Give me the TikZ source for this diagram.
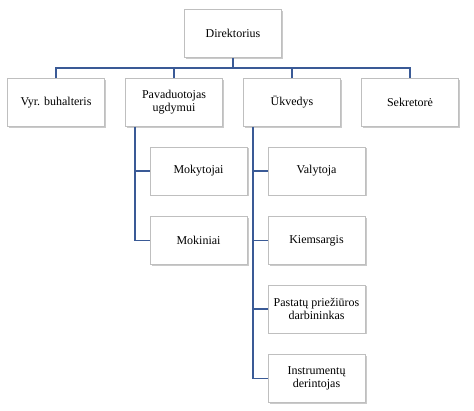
\documentclass[tikz,border=0pt]{standalone}
\usepackage{fontspec}
\setmainfont{Liberation Serif}
\usetikzlibrary{shadows}
\definecolor{conn}{HTML}{3A5A96}
\definecolor{bord}{HTML}{BFBFBF}
\begin{document}
\begin{tikzpicture}[x=1pt,y=-1pt,
  box/.style={draw=bord,line width=0.8pt,fill=white,minimum width=97pt,minimum height=48pt,
    align=center,inner sep=1pt,font=\fontsize{12}{13}\selectfont,
    drop shadow={shadow xshift=1.5pt,shadow yshift=-1.5pt,fill=black!35,opacity=0.6}},
  link/.style={draw=conn,line width=1.8pt}]
\useasboundingbox (0,0) rectangle (474,411);
\node[box] (dir) at (233,33.5) {Direktorius};
\node[box] (vyr) at (56,102.5) {Vyr. buhalteris};
\node[box] (pav) at (174,102.5) {Pavaduotojas\\ugdymui};
\node[box] (ukv) at (292,102.5) {Ūkvedys};
\node[box] (sek) at (410,102.5) {Sekretorė};
\node[box] (mok) at (198.5,171) {Mokytojai};
\node[box] (moki) at (198.5,240.5) {Mokiniai};
\node[box] (val) at (316.5,171) {Valytoja};
\node[box] (kie) at (316.5,240.5) {Kiemsargis};
\node[box] (pas) at (316.5,309) {Pastatų priežiūros\\darbininkas};
\node[box] (ins) at (316.5,378.5) {Instrumentų\\derintojas};
\coordinate (bar) at (0,68);
\draw[link] (dir.south) -- (dir.south |- bar);
\draw[link] (vyr.north) -- (vyr.north |- bar) -- (sek.north |- bar) -- (sek.north);
\draw[link] (pav.north) -- (pav.north |- bar);
\draw[link] (ukv.north) -- (ukv.north |- bar);
\coordinate (pl) at ([xshift=-39pt]pav.south);
\coordinate (ul) at ([xshift=-39pt]ukv.south);
\draw[link] (pl) |- (moki.west);
\draw[link] (pl |- mok.west) -- (mok.west);
\draw[link] (ul) |- (ins.west);
\draw[link] (ul |- val.west) -- (val.west);
\draw[link] (ul |- kie.west) -- (kie.west);
\draw[link] (ul |- pas.west) -- (pas.west);
\end{tikzpicture}
\end{document}
